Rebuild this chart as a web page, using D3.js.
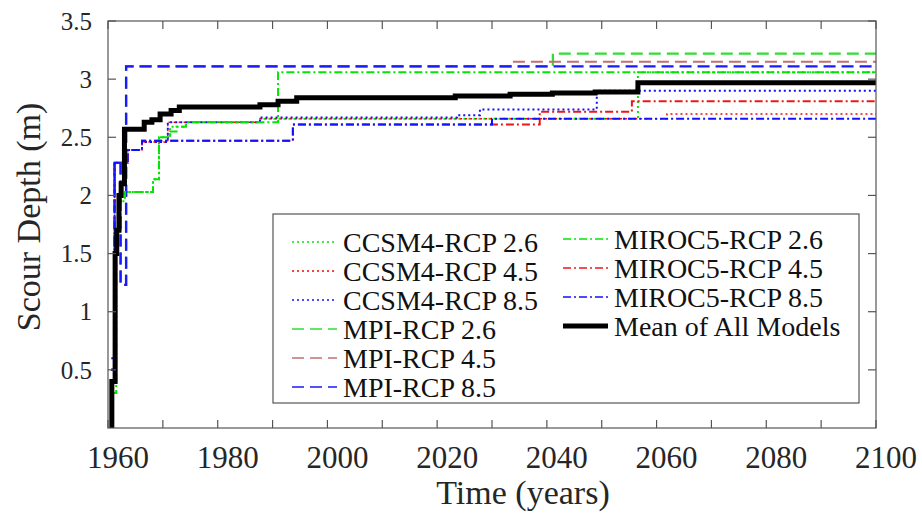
<!DOCTYPE html>
<html>
<head>
<meta charset="utf-8">
<script src="https://cdn.jsdelivr.net/npm/d3@7"></script>
<style>
  body { margin: 0; background: #fff; }
  svg { display: block; font-family: "Liberation Serif", "Times New Roman", serif; }
</style>
</head>
<body>
<div id="chart"></div>
<script>
// scour depth step series, [year, depth in m]
var ccsm4Rcp26 = [[1960.6,0.4],[1961.2,1.8],[1962,2.0],[1963,2.03],[1968.2,2.14],[1969.3,2.5],[1971.3,2.59],[1974.2,2.63],[1987.7,2.66],[2056.6,3.06],[2100,3.06]];
var ccsm4Rcp45 = [[1960.6,0.5],[1961.2,2.28],[1963.6,2.39],[1966.2,2.46],[1970.9,2.63],[1987.7,2.66],[2061.9,2.70],[2100,2.70]];
var ccsm4Rcp85 = [[1960.6,0.6],[1961.2,2.28],[1963.6,2.39],[1966.2,2.46],[1970.9,2.63],[1987.7,2.67],[2023.6,2.69],[2027.8,2.74],[2049.1,2.90],[2100,2.90]];
var mpiRcp26 = [[1960.6,0.5],[1961.2,2.28],[1962.3,1.23],[1963.3,3.11],[2041.1,3.22],[2100,3.22]];
var mpiRcp45 = [[1960.6,0.5],[1961.2,2.28],[1962.3,1.23],[1963.3,3.11],[2033.6,3.15],[2100,3.15]];
var mpiRcp85 = [[1960.6,0.5],[1961.2,2.28],[1962.3,1.23],[1963.3,3.11],[2100,3.11]];
var miroc5Rcp26 = [[1960.6,0.3],[1961.5,1.7],[1962.3,1.95],[1963.1,2.03],[1968.2,2.14],[1969.3,2.5],[1971.3,2.55],[1972.5,2.59],[1974.2,2.63],[1991,3.06],[2100,3.06]];
var miroc5Rcp45 = [[1960.6,0.5],[1961.2,2.28],[1963.6,2.39],[1966.2,2.47],[1993.7,2.61],[2038.7,2.72],[2055.5,2.81],[2100,2.81]];
var miroc5Rcp85 = [[1960.6,0.5],[1961.2,2.28],[1963.6,2.39],[1966.2,2.47],[1993.7,2.61],[2030,2.66],[2100,2.66]];
var meanAll = [[1960.5,0.0],[1960.7,0.4],[1961.1,0.4],[1961.3,1.5],[1961.6,1.7],[1962.0,2.0],[1962.4,2.1],[1963.0,2.57],[1966.2,2.57],[1966.6,2.63],[1968.0,2.65],[1969.5,2.70],[1971.5,2.73],[1973.0,2.76],[1987.7,2.78],[1991.0,2.81],[1994.4,2.84],[2023.3,2.855],[2033.3,2.87],[2041.0,2.88],[2048.8,2.89],[2056.6,2.97],[2100,2.97]];

var names = ["CCSM4-RCP 2.6","CCSM4-RCP 4.5","CCSM4-RCP 8.5","MPI-RCP 2.6","MPI-RCP 4.5","MPI-RCP 8.5","MIROC5-RCP 2.6","MIROC5-RCP 4.5","MIROC5-RCP 8.5","Mean of All Models"];
var xTicks = d3.range(1960, 2101, 10);
var xTickLabels = [1960,1980,2000,2020,2040,2060,2080,2100];
var yTicks = [0.5,1,1.5,2,2.5,3,3.5];

var allData = [ccsm4Rcp26,ccsm4Rcp45,ccsm4Rcp85,mpiRcp26,mpiRcp45,mpiRcp85,miroc5Rcp26,miroc5Rcp45,miroc5Rcp85,meanAll];

// line looks
var styles = [
  {c:"#00e600", w:2,   d:"2,3"},
  {c:"#ff0000", w:1.5, d:"2,3"},
  {c:"#1010ff", w:2,   d:"2,3"},
  {c:"#33dd33", w:2.3, d:"12,6"},
  {c:"#c07070", w:2,   d:"12,6"},
  {c:"#1a1aff", w:2.3, d:"12,6"},
  {c:"#00e600", w:2,   d:"8,3,2,3"},
  {c:"#e81818", w:2,   d:"8,3,2,3"},
  {c:"#1010ff", w:2,   d:"8,3,2,3"},
  {c:"#000000", w:5,   d:null}
];

!(function () {
var W = 922, H = 514;
var pLeft = 108, pRight = 876, pTop = 21, pBottom = 428;

var svg = d3.select("#chart").append("svg")
    .attr("width", W)
    .attr("height", H);

var x = d3.scaleLinear().domain([1960, 2100]).range([pLeft, pRight]);
var y = d3.scaleLinear().domain([0, 3.5]).range([pBottom, pTop]);

svg.append("defs").append("clipPath").attr("id", "clip")
  .append("rect")
    .attr("x", pLeft).attr("y", pTop)
    .attr("width", pRight - pLeft).attr("height", pBottom - pTop);

var line = d3.line()
    .x(function(d) { return x(d[0]); })
    .y(function(d) { return y(d[1]); })
    .curve(d3.curveStepAfter);

var plot = svg.append("g").attr("clip-path", "url(#clip)");

allData.forEach(function(series, i) {
  var s = styles[i];
  plot.append("path")
      .datum(series)
      .attr("fill", "none")
      .attr("stroke", s.c)
      .attr("stroke-width", s.w)
      .attr("stroke-dasharray", s.d)
      .attr("d", line);
});

// axes, ticks inward on all four sides
var tickLen = 8;
var frame = svg.append("g").attr("stroke", "#555").attr("stroke-width", 1.2);

xTicks.forEach(function(t) {
  frame.append("line").attr("x1", x(t)).attr("x2", x(t)).attr("y1", pBottom).attr("y2", pBottom - tickLen);
  frame.append("line").attr("x1", x(t)).attr("x2", x(t)).attr("y1", pTop).attr("y2", pTop + tickLen);
});
yTicks.forEach(function(t) {
  frame.append("line").attr("x1", pLeft).attr("x2", pLeft + tickLen).attr("y1", y(t)).attr("y2", y(t));
  frame.append("line").attr("x1", pRight).attr("x2", pRight - tickLen).attr("y1", y(t)).attr("y2", y(t));
});
frame.append("rect")
    .attr("x", pLeft).attr("y", pTop)
    .attr("width", pRight - pLeft).attr("height", pBottom - pTop)
    .attr("fill", "none");

svg.append("g").selectAll("text")
    .data(xTickLabels)
  .enter().append("text")
    .attr("x", function(d) { return x(d) + 10; })
    .attr("y", 468)
    .attr("text-anchor", "middle")
    .attr("font-size", 31)
    .attr("fill", "#262626")
    .text(function(d) { return d; });

svg.append("g").selectAll("text")
    .data(yTicks)
  .enter().append("text")
    .attr("x", 92)
    .attr("y", function(d) { return y(d); })
    .attr("dy", "0.35em")
    .attr("text-anchor", "end")
    .attr("font-size", 25)
    .attr("fill", "#262626")
    .text(function(d) { return d; });

svg.append("text")
    .attr("x", 523)
    .attr("y", 504)
    .attr("text-anchor", "middle")
    .attr("font-size", 34)
    .attr("fill", "#262626")
    .text("Time (years)");

svg.append("text")
    .attr("transform", "translate(40,217)rotate(-90)")
    .attr("text-anchor", "middle")
    .attr("font-size", 34)
    .attr("fill", "#262626")
    .text("Scour Depth (m)");

// legend
var legend = svg.append("g");
legend.append("rect")
    .attr("x", 273).attr("y", 214)
    .attr("width", 586).attr("height", 189)
    .attr("fill", "#fff")
    .attr("stroke", "#555")
    .attr("stroke-width", 1.2);

names.forEach(function(name, i) {
  var col = i < 6 ? 0 : 1;
  var row = col ? i - 6 : i;
  var lx = col ? 563 : 292;
  var ly = (col ? 239 : 242) + row * 29;
  var s = styles[i];
  legend.append("line")
      .attr("x1", lx).attr("x2", lx + 45)
      .attr("y1", ly).attr("y2", ly)
      .attr("stroke", s.c)
      .attr("stroke-width", i == 9 ? 5 : Math.min(s.w, 1.6))
      .attr("stroke-dasharray", s.d);
  legend.append("text")
      .attr("x", lx + 51)
      .attr("y", ly)
      .attr("dy", "0.35em")
      .attr("font-size", 28)
      .attr("fill", "#111")
      .text(name);
});
})();
</script>
</body>
</html>
